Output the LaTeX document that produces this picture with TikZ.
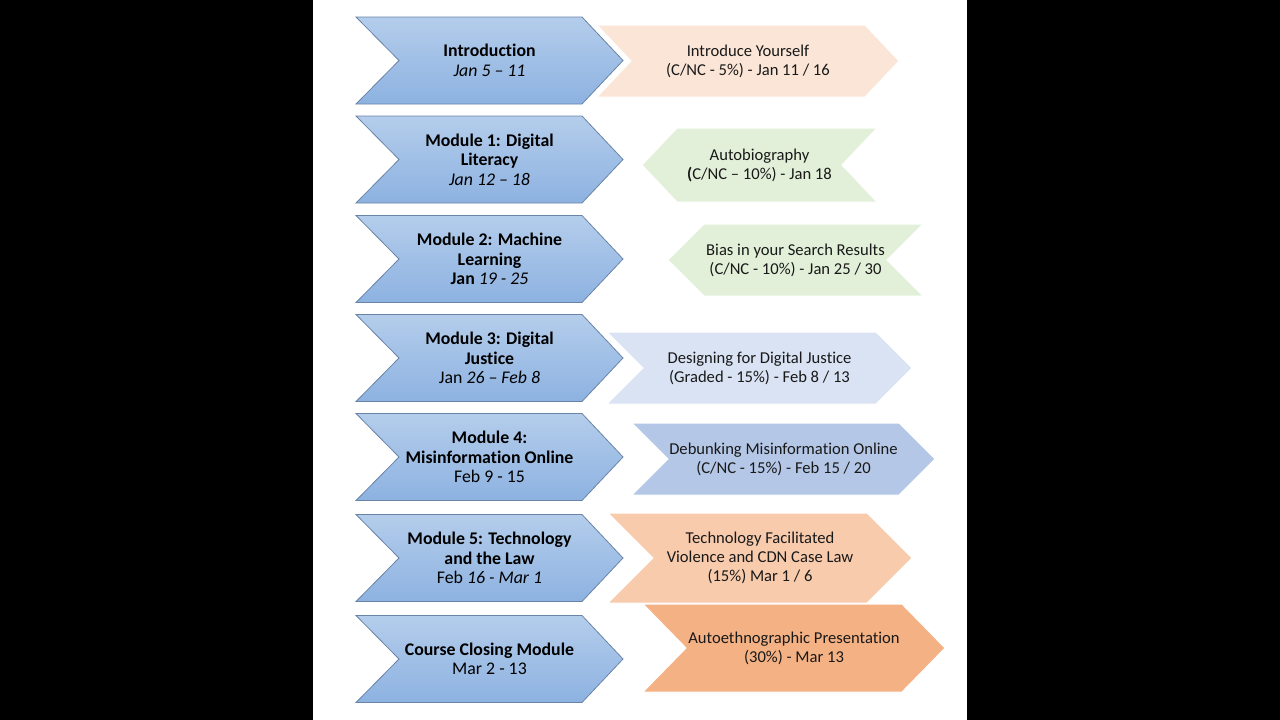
\documentclass[tikz,border=0pt]{standalone}
\usepackage{fontspec}
\setmainfont{Carlito}[RawFeature={-liga;-clig;-dlig;-calt}]
\definecolor{chevtop}{HTML}{B4CDEB}
\definecolor{chevbot}{HTML}{8DB2E1}
\definecolor{chevline}{HTML}{6A84A6}
\definecolor{peachlt}{HTML}{FBE5D6}
\definecolor{greenlt}{HTML}{E2F0D9}
\definecolor{bluelt}{HTML}{DAE3F3}
\definecolor{bluemd}{HTML}{B4C7E7}
\definecolor{peachmd}{HTML}{F8CBAD}
\definecolor{orangemd}{HTML}{F4B183}
\tikzset{
  chevhalo/.style={draw=white, line width=3pt},
  chevbody/.style={top color=chevtop, bottom color=chevbot, draw=chevline, line width=0.8pt},
  rshape/.style={draw=white, line width=1pt},
  ltext/.style={align=center, font=\fontsize{17.8}{19.6}\selectfont, text=black, inner sep=0pt},
  rtext/.style={align=center, font=\fontsize{16.6}{19}\selectfont, text=black!90, inner sep=0pt}
}
\newcommand\LChev[3]{%
  \path[chevhalo] (356,#2) -- (582,#2) -- (623,#2+43.5) -- (582,#2+87) -- (356,#2+87) -- (399,#2+43.5) -- cycle;
  \path[chevbody] (356,#2) -- (582,#2) -- (623,#2+43.5) -- (582,#2+87) -- (356,#2+87) -- (399,#2+43.5) -- cycle;
  \node[ltext] (#1) at (489.5,#2+43.5) {#3};
}
% name, L, R, T, B, d, colour, text
\newcommand\RChev[8]{%
  \path[rshape, fill=#7] (#2,#4) -- (#3-#6,#4) -- (#3,#4/2+#5/2) -- (#3-#6,#5) -- (#2,#5) -- (#2+#6,#4/2+#5/2) -- cycle;
  \node[rtext] (#1) at (#2/2+#3/2,#4/2+#5/2) {#8};
}
\newcommand\LPChev[8]{%
  \path[rshape, fill=#7] (#2+#6,#4) -- (#3,#4) -- (#3-#6,#4/2+#5/2) -- (#3,#5) -- (#2+#6,#5) -- (#2,#4/2+#5/2) -- cycle;
  \node[rtext] (#1) at (#2/2+#3/2,#4/2+#5/2) {#8};
}
\begin{document}
\begin{tikzpicture}[x=1pt,y=-1pt]
\useasboundingbox (0,0) rectangle (1280,720);
\fill[black] (0,0) rectangle (1280,720);
\fill[white] (313,0) rectangle (967,720);

% right-hand shapes
\RChev{a1}{597}{899}{25}{97}{34}{peachlt}{Introduce Yourself\\(C/NC - 5\%) - Jan 11 / 16}
\LPChev{a2}{642}{877}{128}{202}{35}{greenlt}{Autobiography\\\textbf{(}C/NC – 10\%) - Jan 18}
\LPChev{a3}{668}{923}{224}{296}{36}{greenlt}{Bias in your Search Results\\(C/NC - 10\%) - Jan 25 / 30}
\RChev{a4}{607}{912}{332}{404}{36}{bluelt}{Designing for Digital Justice\\(Graded - 15\%) - Feb 8 / 13}
\RChev{a5}{632}{935}{423}{495}{36}{bluemd}{Debunking Misinformation Online\\(C/NC - 15\%) - Feb 15 / 20}
\RChev{a6}{608}{912}{513}{603}{45}{peachmd}{Technology Facilitated\\Violence and CDN Case Law\\(15\%) Mar 1 / 6}
\RChev{a7}{643}{945}{604}{692}{43}{orangemd}{Autoethnographic Presentation\\(30\%) - Mar 13}

% left-hand module chevrons
\LChev{m0}{17}{\textbf{Introduction}\\\textit{Jan 5 – 11}}
\LChev{m1}{116}{\textbf{Module 1: Digital}\\\textbf{Literacy}\\\textit{Jan 12 – 18}}
\LChev{m2}{215.5}{\textbf{Module 2: Machine}\\\textbf{Learning}\\\textbf{Jan} \textit{19 - 25}}
\LChev{m3}{314.5}{\textbf{Module 3: Digital}\\\textbf{Justice}\\Jan \textit{26 – Feb 8}}
\LChev{m4}{413.5}{\textbf{Module 4:}\\\textbf{Misinformation Online}\\Feb 9 - 15}
\LChev{m5}{514.5}{\textbf{Module 5: Technology}\\\textbf{and the Law}\\Feb \textit{16 - Mar 1}}
\LChev{m6}{615.5}{\textbf{Course Closing Module}\\Mar 2 - 13}
\end{tikzpicture}
\end{document}
